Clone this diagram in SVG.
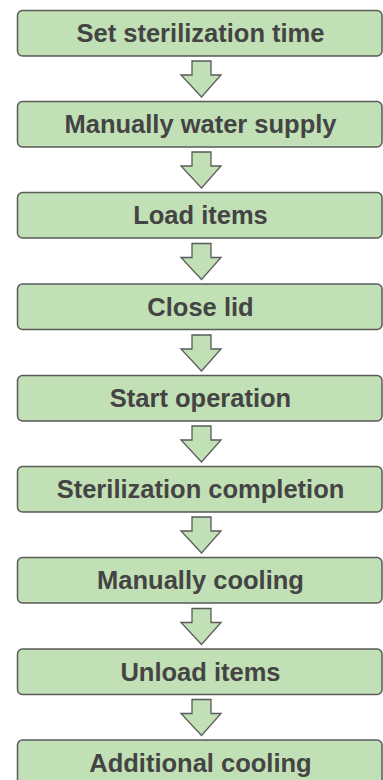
<svg xmlns="http://www.w3.org/2000/svg" width="383" height="780" viewBox="0 0 383 780">
<defs>
<style>
.box{fill:#c2e0b5;stroke:#5a5a5a;stroke-width:1.5}
.lbl{font-family:"Liberation Sans",Arial,sans-serif;font-weight:bold;font-size:25.5px;fill:#444;text-anchor:middle}
.arr{fill:#c2e0b5;stroke:#5a5a5a;stroke-width:1.3;stroke-linejoin:miter}
</style>
<path id="a" class="arr" d="M192,0 H211 V14 H221 L201.5,36 L181,14 H192 Z"/>
</defs>
<rect width="383" height="780" fill="#fff"/>
<g id="connectors">
<use href="#a" y="61"/>
<use href="#a" y="152"/>
<use href="#a" y="243.5"/>
<use href="#a" y="335"/>
<use href="#a" y="426"/>
<use href="#a" y="517"/>
<use href="#a" y="608.5"/>
<use href="#a" y="699.5"/>
</g>
<g id="n1"><rect class="box" x="17.5" y="10.5" width="364.5" height="45.5" rx="5"/><text class="lbl" x="200.5" y="42.3">Set sterilization time</text></g>
<g id="n2"><rect class="box" x="17.5" y="101.5" width="364.5" height="45.5" rx="5"/><text class="lbl" x="200.5" y="133.3">Manually water supply</text></g>
<g id="n3"><rect class="box" x="17.5" y="192.5" width="364.5" height="45.5" rx="5"/><text class="lbl" x="200.5" y="224.3">Load items</text></g>
<g id="n4"><rect class="box" x="17.5" y="284" width="364.5" height="45.5" rx="5"/><text class="lbl" x="200.5" y="315.8">Close lid</text></g>
<g id="n5"><rect class="box" x="17.5" y="375.5" width="364.5" height="45.5" rx="5"/><text class="lbl" x="200.5" y="407.3">Start operation</text></g>
<g id="n6"><rect class="box" x="17.5" y="466.5" width="364.5" height="45.5" rx="5"/><text class="lbl" x="200.5" y="498.3">Sterilization completion</text></g>
<g id="n7"><rect class="box" x="17.5" y="557.5" width="364.5" height="45.5" rx="5"/><text class="lbl" x="200.5" y="589.3">Manually cooling</text></g>
<g id="n8"><rect class="box" x="17.5" y="649" width="364.5" height="45.5" rx="5"/><text class="lbl" x="200.5" y="680.8">Unload items</text></g>
<g id="n9"><rect class="box" x="17.5" y="740" width="364.5" height="45.5" rx="5"/><text class="lbl" x="200.5" y="771.8">Additional cooling</text></g>
</svg>
